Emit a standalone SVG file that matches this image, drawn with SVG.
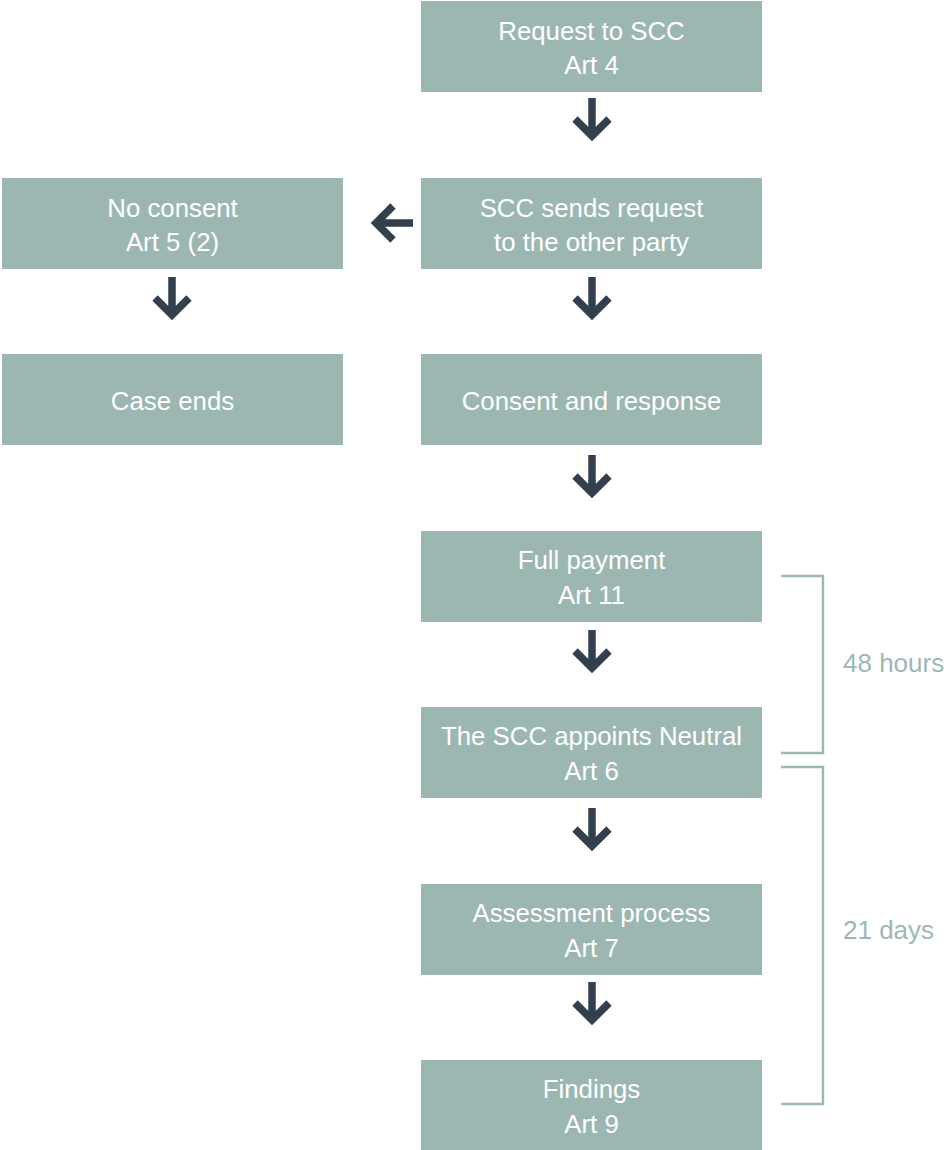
<svg xmlns="http://www.w3.org/2000/svg" width="949" height="1150" viewBox="0 0 949 1150">
<style>
.box{fill:#9cb7b2}
.t{font-family:"Liberation Sans",Arial,sans-serif;font-size:25.8px;fill:#ffffff;text-anchor:middle}
.arr{fill:none;stroke:#333f4d;stroke-width:7.5;stroke-linejoin:miter;stroke-linecap:butt}
.br{fill:none;stroke:#9db8b3;stroke-width:2.5}
.lbl{font-family:"Liberation Sans",Arial,sans-serif;font-size:26px;fill:#9db8b3}
</style>
<rect width="949" height="1150" fill="#ffffff"/>
<g id="n1"><rect class="box" x="421" y="1" width="341" height="91"/><text class="t" x="591.5" y="40">Request to SCC</text><text class="t" x="591.5" y="74">Art 4</text></g>
<g id="n2"><rect class="box" x="421" y="178" width="341" height="91"/><text class="t" x="591.5" y="217">SCC sends request</text><text class="t" x="591.5" y="251">to the other party</text></g>
<g id="n3"><rect class="box" x="2" y="178" width="341" height="91"/><text class="t" x="172.5" y="217">No consent</text><text class="t" x="172.5" y="251">Art 5 (2)</text></g>
<g id="n4"><rect class="box" x="2" y="354" width="341" height="91"/><text class="t" x="172.5" y="410">Case ends</text></g>
<g id="n5"><rect class="box" x="421" y="354" width="341" height="91"/><text class="t" x="591.5" y="410">Consent and response</text></g>
<g id="n6"><rect class="box" x="421" y="531" width="341" height="91"/><text class="t" x="591.5" y="569">Full payment</text><text class="t" x="591.5" y="604">Art 11</text></g>
<g id="n7"><rect class="box" x="421" y="707" width="341" height="91"/><text class="t" x="591.5" y="745">The SCC appoints Neutral</text><text class="t" x="591.5" y="780">Art 6</text></g>
<g id="n8"><rect class="box" x="421" y="884" width="341" height="91"/><text class="t" x="591.5" y="922">Assessment process</text><text class="t" x="591.5" y="957">Art 7</text></g>
<g id="n9"><rect class="box" x="421" y="1060" width="341" height="91"/><text class="t" x="591.5" y="1098">Findings</text><text class="t" x="591.5" y="1133">Art 9</text></g>
<g id="connectors">
<path class="arr" d="M592,98V136M575,119L592,136L609,119"/>
<path class="arr" d="M592,277V315M575,298L592,315L609,298"/>
<path class="arr" d="M172,277V315M155,298L172,315L189,298"/>
<path class="arr" d="M413,223H376M393,206L376,223L393,240"/>
<path class="arr" d="M592,455V493M575,476L592,493L609,476"/>
<path class="arr" d="M592,630V668M575,651L592,668L609,651"/>
<path class="arr" d="M592,808V846M575,829L592,846L609,829"/>
<path class="arr" d="M592,982V1020M575,1003L592,1020L609,1003"/>
</g>
<g id="brackets">
<path class="br" d="M781,576H823V753H781"/>
<path class="br" d="M781,767H823V1104H781"/>
<text class="lbl" x="843" y="672">48 hours</text>
<text class="lbl" x="843" y="939">21 days</text>
</g>
</svg>
